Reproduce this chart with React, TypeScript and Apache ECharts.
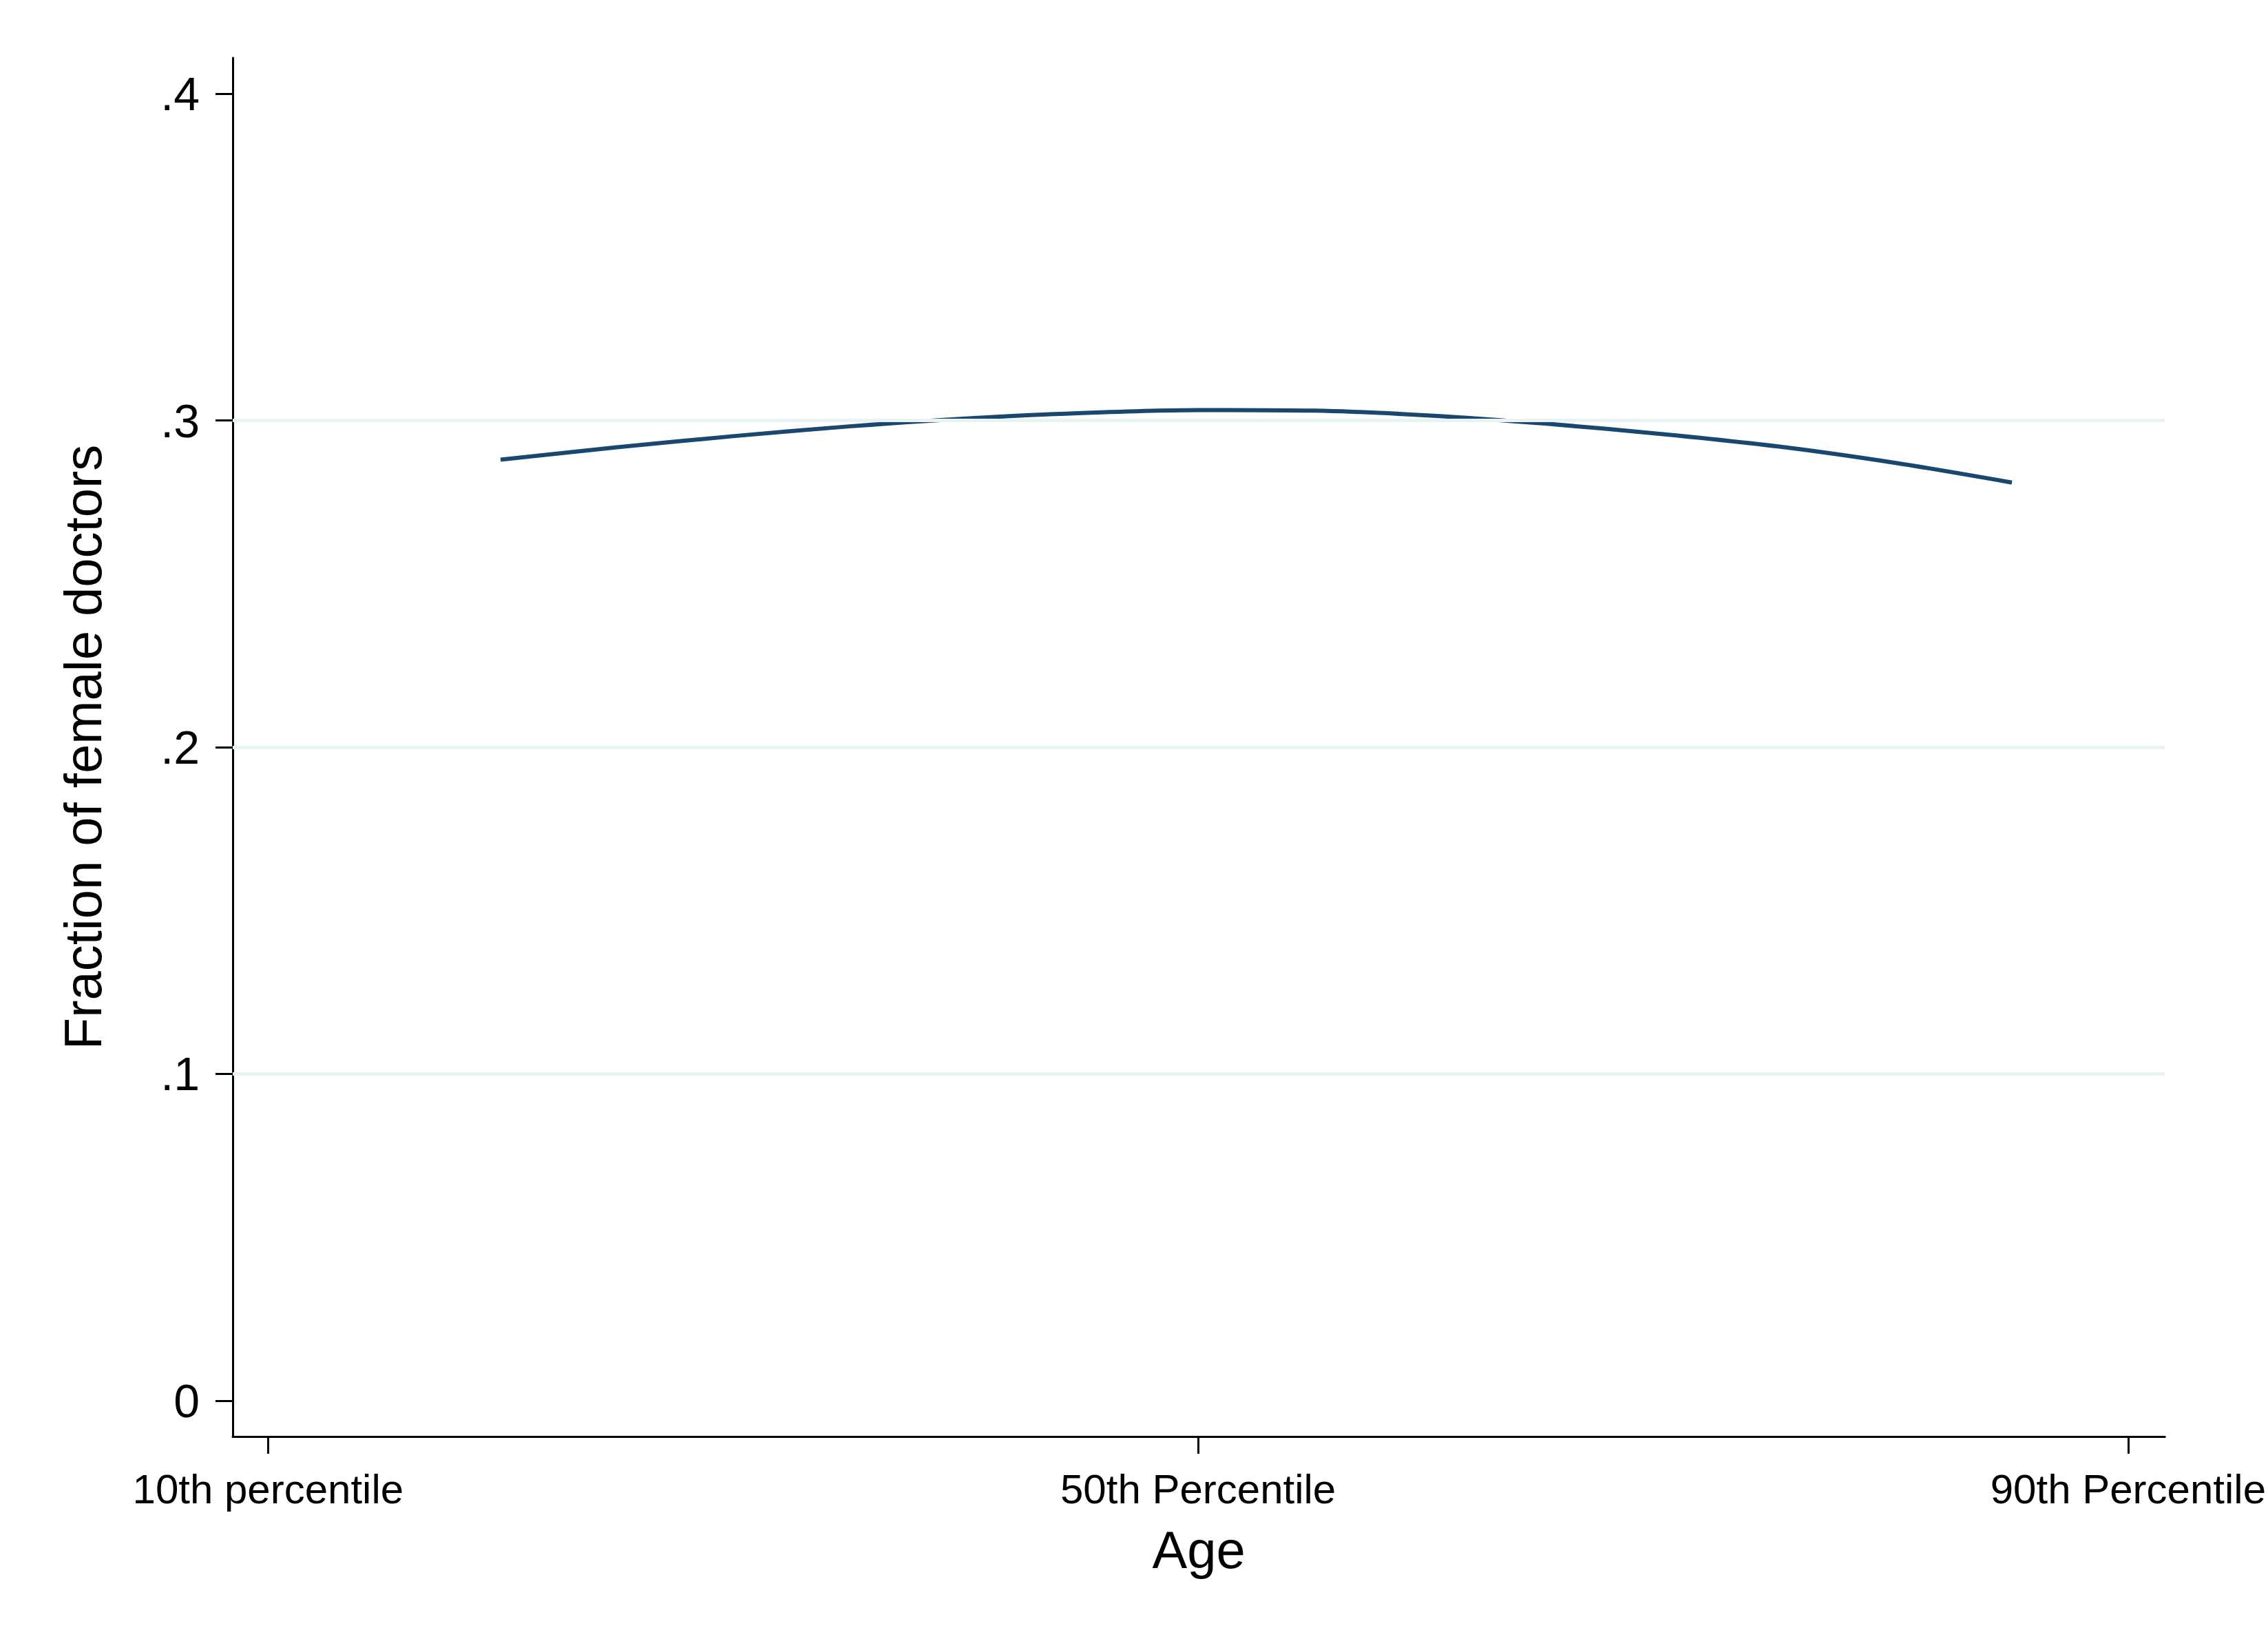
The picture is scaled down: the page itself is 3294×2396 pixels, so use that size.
import React, { useEffect, useRef } from "react";
import * as echarts from "echarts";

const xValues = [20, 25, 30, 35, 40, 45, 50, 55, 60, 65, 70, 75, 80, 85];
const yValues = [0.288, 0.2918, 0.2952, 0.2982, 0.3006, 0.3023, 0.3032, 0.3030, 0.3015, 0.2990, 0.2958, 0.2920, 0.2870, 0.281];
const xTicks = [10, 50, 90];
const xTickLabels: Record<number, string> = { 10: "10th percentile", 50: "50th Percentile", 90: "90th Percentile" };
const yTicks = [0, 0.1, 0.2, 0.3, 0.4];
const gridLines = [0.1, 0.2, 0.3];

export default function App() {
  const ref = useRef<HTMLDivElement>(null);
  useEffect(() => {
    const chart = echarts.init(ref.current!, null, { renderer: "svg" });
    const font = "Liberation Sans, Arial, sans-serif";
    chart.setOption({
      animation: false,
      backgroundColor: "#fff",
      grid: { left: 338, right: 36, top: 84, bottom: 310 },
      xAxis: {
        type: "value", min: 8.48, max: 91.58,
        name: "Age", nameLocation: "middle", nameGap: 126,
        nameTextStyle: { fontSize: 76, color: "#000", fontFamily: font },
        axisLine: { onZero: false, lineStyle: { color: "#000", width: 3 } },
        axisTick: { show: true, customValues: xTicks, length: 25, lineStyle: { color: "#000", width: 3 } },
        axisLabel: { customValues: xTicks, margin: 46, fontSize: 60, color: "#000", fontFamily: font,
          formatter: (v: number) => xTickLabels[v] ?? "" },
        splitLine: { show: false },
      },
      yAxis: {
        type: "value", min: -0.011, max: 0.411,
        name: "Fraction of female doctors", nameLocation: "middle", nameGap: 180,
        nameTextStyle: { fontSize: 76, color: "#000", fontFamily: font },
        axisLine: { show: true, lineStyle: { color: "#000", width: 3 } },
        axisTick: { show: true, customValues: yTicks, length: 25, lineStyle: { color: "#000", width: 3 } },
        axisLabel: { customValues: yTicks, margin: 48, fontSize: 68, color: "#000", fontFamily: font,
          formatter: (v: number) => (v === 0 ? "0" : v.toFixed(1).replace(/^0/, "")) },
        splitLine: { show: false },
      },
      series: [{
        type: "line", smooth: 0.3, showSymbol: false,
        data: xValues.map((x, i) => [x, yValues[i]]),
        lineStyle: { color: "#1a476f", width: 6 },
        markLine: {
          silent: true, symbol: "none", label: { show: false },
          lineStyle: { color: "#eaf2f3", width: 5, type: "solid" },
          data: gridLines.map((v) => ({ yAxis: v })),
        },
        z: 3,
      }],
    });
    return () => chart.dispose();
  }, []);
  return <div ref={ref} style={{ position: "absolute", left: 0, top: 0, width: 3294, height: 2396 }} />;
}
